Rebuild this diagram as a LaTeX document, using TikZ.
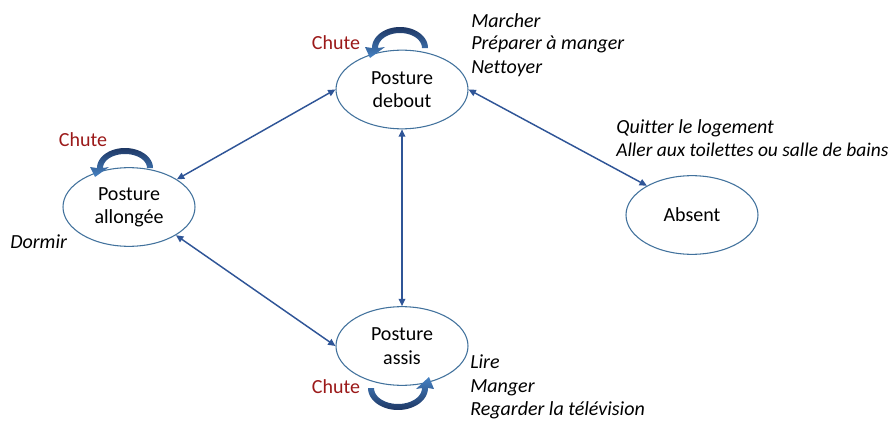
\documentclass[tikz,border=0pt]{standalone}
\usepackage{fontspec}
\setmainfont{Carlito}[Ligatures=NoCommon]
\usetikzlibrary{arrows.meta,shapes.geometric}
\definecolor{edgeblue}{RGB}{47,85,151}
\definecolor{ellblue}{RGB}{65,113,156}
\definecolor{chutered}{RGB}{155,25,25}
\definecolor{loopdark}{RGB}{30,55,100}
\definecolor{looplight}{RGB}{70,130,195}
\begin{document}
\begin{tikzpicture}[x=0.75pt,y=-0.75pt,
  state/.style={ellipse,draw=ellblue,line width=0.8pt,minimum width=99pt,minimum height=59pt,inner sep=0pt,align=center,font=\fontsize{15}{17.5}\selectfont},
  act/.style={font=\fontsize{15}{17.5}\selectfont\itshape,inner sep=0pt,anchor=base west},
  chute/.style={font=\fontsize{15}{17.5}\selectfont,text=chutered,inner sep=0pt,anchor=base},
  link/.style={draw=edgeblue,line width=1.1pt,{Triangle[length=5.5pt,width=5pt]}-{Triangle[length=5.5pt,width=5pt]}},
  loopdown/.style={top color=loopdark,bottom color=looplight},
  loopup/.style={top color=looplight,bottom color=loopdark}]
\useasboundingbox (0,0) rectangle (894,421);

\node[state] (debout) at (402,89.5) {Posture\\debout};
\node[state] (allongee) at (129,207) {Posture\\allongée};
\node[state] (assis) at (402,346) {Posture\\assis};
\node[state] (absent) at (692,215) {Absent};

\draw[link] (debout.west) -- (allongee.30);
\draw[link] (debout.east) -- (absent.147);
\draw[link] (debout.south) -- (assis.north);
\draw[link] (allongee.-31) -- (assis.west);

% self loops
\shade[loopdown]
  plot[domain=0:180,samples=40] ({400+28*cos(\x)},{48-21*sin(\x)})
  -- (365,47) -- (370,58) -- (385,47) -- (378,48)
  -- plot[domain=180:0,samples=40] ({400+22*cos(\x)},{48-15*sin(\x)}) -- cycle;
\shade[loopdown]
  plot[domain=0:180,samples=40] ({125+28*cos(\x)},{168-20*sin(\x)})
  -- (90,167) -- (95,177) -- (109,167) -- (103,168)
  -- plot[domain=180:0,samples=40] ({125+22*cos(\x)},{168-14*sin(\x)}) -- cycle;
\shade[loopup]
  plot[domain=180:0,samples=40] ({398+30*cos(\x)},{388+22*sin(\x)})
  -- (434,389) -- (429,377) -- (416,389) -- (422,388)
  -- plot[domain=0:180,samples=40] ({398+24*cos(\x)},{388+16*sin(\x)}) -- cycle;

\node[act] (t1) at (471,27) {Marcher};
\node[act] (t2) at (471,50) {Préparer à manger};
\node[act] (t3) at (471,73) {Nettoyer};
\node[act] (t4) at (616,133) {Quitter le logement};
\node[act,font=\fontsize{14.6}{17.5}\selectfont\itshape] (t5) at (616,156) {Aller aux toilettes ou salle de bains};
\node[act] (t6) at (470,368) {Lire};
\node[act] (t7) at (470,392) {Manger};
\node[act] (t8) at (470,415) {Regarder la télévision};
\node[act] (t9) at (10,248) {Dormir};
\node[chute] (c1) at (336,49) {Chute};
\node[chute] (c2) at (83,146) {Chute};
\node[chute] (c3) at (336,393) {Chute};
\end{tikzpicture}
\end{document}
